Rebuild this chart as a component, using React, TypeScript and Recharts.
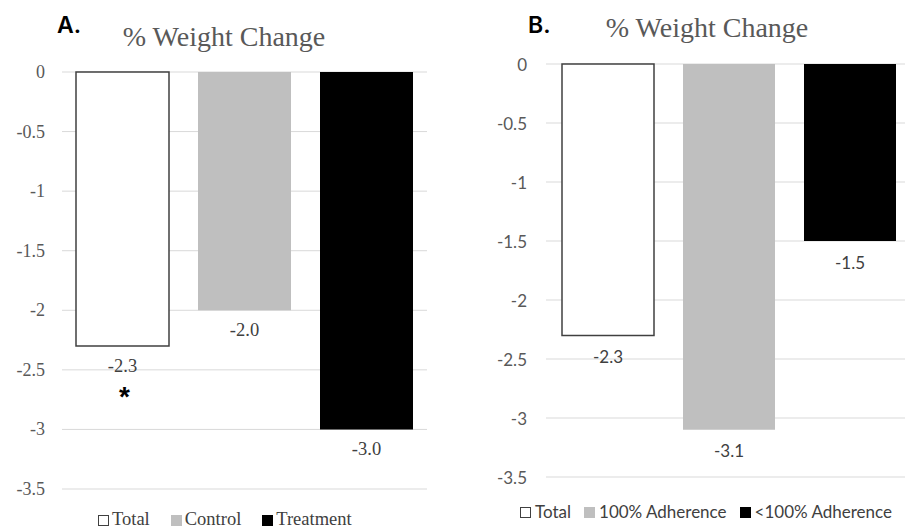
import React from 'react';
import { BarChart, Bar, XAxis, YAxis, CartesianGrid, LabelList } from 'recharts';

const categoriesA = ['Total', 'Control', 'Treatment'];
const valuesA = [-2.3, -2.0, -3.0];
const significanceA = ['*', '', ''];

const categoriesB = ['Total', '100% Adherence', '<100% Adherence'];
const valuesB = [-2.3, -3.1, -1.5];
const significanceB = ['', '', ''];

const yTicks = [0, -0.5, -1, -1.5, -2, -2.5, -3, -3.5];
const panelLabels = ['A.', 'B.'];
const chartTitle = '% Weight Change';

const fills = ['#FFFFFF', '#BFBFBF', '#000000'];
const strokes = ['#404040', 'none', 'none'];

const SERIF = '"Liberation Serif", "Times New Roman", serif';
const SANS = 'Lato, "Liberation Sans", sans-serif';

const buildRow = (cats: string[], vals: number[]) => {
  const row: any = { group: 'all' };
  cats.forEach((c, i) => {
    row['s' + i] = vals[i];
  });
  return [row];
};

const makeLabel = (font: string, fontSize: number, sig: string, offset: number) => (props: any) => {
  const vb = props.viewBox || {};
  const x = props.x ?? vb.x;
  const y = props.y ?? vb.y;
  const width = props.width ?? vb.width;
  const height = props.height ?? vb.height;
  const bottom = Math.max(y, y + height);
  const cx = x + width / 2;
  const v = Number(props.value);
  return (
    <g>
      <text x={cx} y={bottom + offset} textAnchor="middle" dominantBaseline="central" style={{ fontFamily: font, fontSize }} fill="#404040">
        {v.toFixed(1)}
      </text>
      {sig ? (
        <text x={cx + 2} y={bottom + 60} textAnchor="middle" style={{ fontFamily: '"Liberation Sans", sans-serif', fontWeight: 'bold', fontSize: 28 }} fill="#000">
          {sig}
        </text>
      ) : null}
    </g>
  );
};

const makeTick = (font: string, fontSize: number) => (props: any) => {
  const { x, y, payload } = props;
  return (
    <text x={x} y={y} textAnchor="end" dominantBaseline="central" style={{ fontFamily: font, fontSize }} fill="#595959">
      {String(payload.value)}
    </text>
  );
};

const Legend = ({ cats, font, fontSize, left, top, iconGap, itemGap }: any) => (
  <div style={{ position: 'absolute', left, top, display: 'flex', alignItems: 'center', fontFamily: font, fontSize, lineHeight: fontSize + 'px', color: '#404040', whiteSpace: 'nowrap' }}>
    {cats.map((c: string, i: number) => (
      <div key={c} style={{ display: 'flex', alignItems: 'center', marginRight: itemGap }}>
        <span style={{ display: 'inline-block', width: i === 0 ? 9 : 11, height: i === 0 ? 9 : 11, background: fills[i], border: i === 0 ? '1.5px solid #404040' : 'none', marginRight: iconGap, marginTop: 2 }} />
        <span>{c}</span>
      </div>
    ))}
  </div>
);

const Panel = ({ cats, vals, sig, font, tickSize, labelSize, left, width, margin, yWidth, tickMargin, barSize, labelOffset }: any) => {
  const data = buildRow(cats, vals);
  return (
    <div style={{ position: 'absolute', left, top: 0 }}>
      <BarChart width={width} height={532} data={data} margin={margin} barGap={29} barSize={barSize}>
        <CartesianGrid horizontal={true} vertical={false} stroke="#D9D9D9" strokeWidth={1} />
        <XAxis dataKey="group" hide />
        <YAxis
          type="number"
          domain={[-3.5, 0]}
          ticks={yTicks}
          width={yWidth}
          axisLine={false}
          tickLine={false}
          tickSize={0}
          tickMargin={tickMargin}
          interval={0}
          tick={makeTick(font, tickSize)}
        />
        {cats.map((c: string, i: number) => (
          <Bar key={c} dataKey={'s' + i} name={c} fill={fills[i]} stroke={strokes[i]} strokeWidth={1.5} isAnimationActive={false}>
            <LabelList dataKey={'s' + i} content={makeLabel(font, labelSize, sig[i], labelOffset)} />
          </Bar>
        ))}
      </BarChart>
    </div>
  );
};

export default function App() {
  return (
    <div style={{ position: 'absolute', left: 0, top: 0, width: 905, height: 532, overflow: 'hidden', background: '#fff' }}>
      <Panel
        cats={categoriesA}
        vals={valuesA}
        sig={significanceA}
        font={SERIF}
        tickSize={18}
        labelSize={18.5}
        left={0}
        width={450}
        margin={{ top: 72, right: 23, bottom: 43, left: 0 }}
        yWidth={62}
        tickMargin={17}
        barSize={93}
        labelOffset={20}
      />
      <Panel
        cats={categoriesB}
        vals={valuesB}
        sig={significanceB}
        font={SANS}
        tickSize={17}
        labelSize={17}
        left={460}
        width={451}
        margin={{ top: 64, right: 0, bottom: 55, left: 0 }}
        yWidth={86}
        tickMargin={19}
        barSize={92}
        labelOffset={21}
      />
      <svg width={905} height={532} style={{ position: 'absolute', left: 0, top: 0, pointerEvents: 'none' }}>
        <text x={57} y={33} style={{ fontFamily: 'Inter, sans-serif', fontWeight: 600, fontSize: 23 }} fill="#000">{panelLabels[0]}</text>
        <text x={224} y={46} textAnchor="middle" style={{ fontFamily: SERIF, fontSize: 28 }} fill="#595959">{chartTitle}</text>
        <text x={528} y={33} style={{ fontFamily: 'Inter, sans-serif', fontWeight: 600, fontSize: 23 }} fill="#000">{panelLabels[1]}</text>
        <text x={707} y={37} textAnchor="middle" style={{ fontFamily: SERIF, fontSize: 28 }} fill="#595959">{chartTitle}</text>
      </svg>
      <Legend cats={categoriesA} font={SERIF} fontSize={18.5} left={98} top={510} iconGap={3} itemGap={21} />
      <Legend cats={categoriesB} font={SANS} fontSize={17} left={520} top={503} iconGap={4} itemGap={13} />
    </div>
  );
}
